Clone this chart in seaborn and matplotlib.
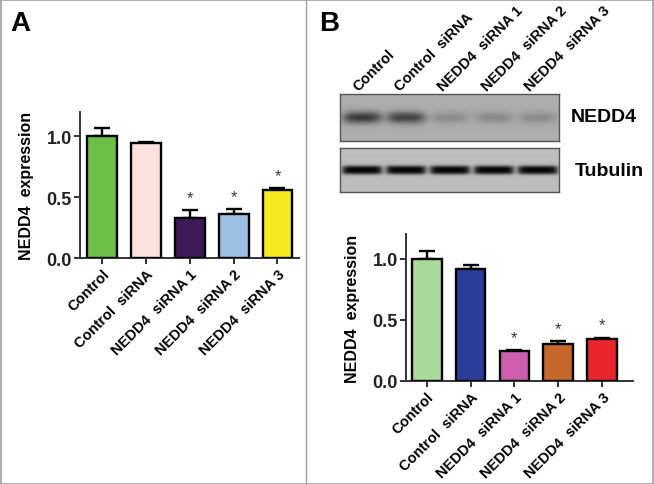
import numpy as np
import pandas as pd
import matplotlib
matplotlib.use("Agg")
import matplotlib.pyplot as plt
import seaborn as sns
from matplotlib.patches import Rectangle
from matplotlib.lines import Line2D

# ---------------- data ----------------
categories = ["Control", "Control  siRNA", "NEDD4  siRNA 1", "NEDD4  siRNA 2", "NEDD4  siRNA 3"]
a_values = [1.00, 0.945, 0.33, 0.36, 0.555]
a_errors = [0.065, 0.012, 0.065, 0.045, 0.018]
a_colors = ["#6cbf46", "#fce0e0", "#3e1a58", "#9dbfe4", "#f4ea1f"]
a_star = [False, False, True, True, True]

b_values = [1.00, 0.915, 0.245, 0.305, 0.345]
b_errors = [0.06, 0.035, 0.01, 0.025, 0.01]
b_colors = ["#a9da9a", "#2a3d98", "#cb5fae", "#c6672b", "#e8262b"]
b_star = [False, False, True, True, True]

yticks = [0.0, 0.5, 1.0]
ytick_labels = ["0.0", "0.5", "1.0"]
ylabel = "NEDD4  expression"

blot_nedd4 = [0.78, 0.72, 0.22, 0.24, 0.22]
blot_tubulin = [1.0, 1.0, 1.0, 1.0, 1.0]

# ---------------- figure ----------------
W, H = 654, 485
sns.set_style("white")
plt.rcParams["font.family"] = ["Liberation Sans", "DejaVu Sans"]
plt.rcParams["font.weight"] = "bold"
plt.rcParams["text.color"] = "black"
plt.rcParams["axes.labelcolor"] = "black"
plt.rcParams["xtick.color"] = "black"
plt.rcParams["ytick.color"] = "black"
fig = plt.figure(figsize=(W / 100, H / 100), dpi=100)


def px_axes(x0, y0, x1, y1):
    return fig.add_axes([x0 / W, 1 - y1 / H, (x1 - x0) / W, (y1 - y0) / H])


def bar_panel(ax, values, errors, colors, stars, xlim):
    df = pd.DataFrame({"cat": categories, "val": values})
    sns.barplot(data=df, x="cat", y="val", hue="cat", palette=colors, legend=False,
                ax=ax, width=0.68, edgecolor="black", linewidth=1.7, errorbar=None,
                saturation=1, zorder=3)
    ax.errorbar(np.arange(len(values)), values, yerr=[np.zeros(len(values)), errors],
                fmt="none", ecolor="black", elinewidth=1.7, capsize=5.5, capthick=1.7,
                zorder=2)
    for i, (v, e, s) in enumerate(zip(values, errors, stars)):
        if s:
            ax.text(i, v + e + 0.04, "*", ha="center", va="bottom", fontsize=12,
                    color="#333344", fontweight="normal")
    ax.set_xlim(*xlim)
    ax.set_ylim(0, 1.2)
    ax.set_yticks(yticks)
    ax.set_yticklabels(ytick_labels, fontsize=13, fontweight="bold", color="#222222")
    ax.set_xticks(range(len(categories)))
    ax.set_xticklabels(categories, rotation=45, ha="right", rotation_mode="anchor",
                       fontsize=10.5, fontweight="bold")
    ax.set_xlabel("")
    ax.set_ylabel(ylabel, fontsize=11.5, fontweight="bold", labelpad=9)
    sns.despine(ax=ax)
    for sp in ("left", "bottom"):
        ax.spines[sp].set_linewidth(1.4)
        ax.spines[sp].set_color("#333333")
    ax.tick_params(axis="both", which="both", direction="out", length=4, width=1.4,
                   color="#333333", left=True, bottom=True, pad=2)
    ax.set_facecolor("none")


# Panel A
axA = px_axes(80, 113, 299, 259)
bar_panel(axA, a_values, a_errors, a_colors, a_star, (-0.5, 4.49))

# Panel B
axB = px_axes(406, 235, 633, 382)
bar_panel(axB, b_values, b_errors, b_colors, b_star, (-0.47, 4.7))


# Western blot images
def blot(ax, intens, bg, band_h, band_w, sharp, ysharp, depth):
    nx, ny = 440, 90
    xs = np.linspace(0, 5, nx)
    ys = np.linspace(-1, 1, ny)
    img = np.full((ny, nx), bg)
    for i, a in enumerate(intens):
        cx = i + 0.5
        px = np.exp(-(np.abs(xs - cx) / band_w) ** sharp)
        py = np.exp(-(np.abs(ys) / band_h) ** ysharp)
        img = img - a * bg * np.outer(py, px) * depth
    ax.imshow(np.clip(img, 0, 1), cmap="gray", vmin=0, vmax=1, aspect="auto",
              extent=(0, 5, -1, 1), interpolation="bilinear")
    ax.set_xticks([])
    ax.set_yticks([])
    for sp in ax.spines.values():
        sp.set_visible(True)
        sp.set_color("#555555")
        sp.set_linewidth(1.0)


axN = px_axes(340, 95, 559, 142)
blot(axN, blot_nedd4, 0.68, 0.26, 0.44, 4, 2, 0.85)
axT = px_axes(340, 149, 559, 193)
blot(axT, blot_tubulin, 0.74, 0.2, 0.46, 8, 3, 0.97)

fig.text(571 / W, 1 - 117 / H, "NEDD4", fontsize=14, fontweight="bold",
         ha="left", va="center")
fig.text(575 / W, 1 - 172 / H, "Tubulin", fontsize=14, fontweight="bold",
         ha="left", va="center")

lane_x = [358, 400, 443, 487, 530]
for lx, lab in zip(lane_x, categories):
    fig.text(lx / W, 1 - 92 / H, lab, rotation=45, rotation_mode="anchor",
             ha="left", va="baseline", fontsize=10.5, fontweight="bold")

# panel letters
fig.text(10 / W, 1 - 31 / H, "A", fontsize=20, fontweight="bold", ha="left", va="baseline")
fig.text(319 / W, 1 - 31 / H, "B", fontsize=20, fontweight="bold", ha="left", va="baseline")

# borders
border = "#a0a0a0"
fig.add_artist(Rectangle((0.5 / W, 0.5 / H), (W - 1.5) / W, (H - 1.5) / H,
                         transform=fig.transFigure, fill=False, edgecolor=border, lw=1.2))
fig.add_artist(Line2D([306 / W, 306 / W], [0, 1], transform=fig.transFigure,
                      color=border, lw=1.0))

fig.savefig("out.png", dpi=100)
